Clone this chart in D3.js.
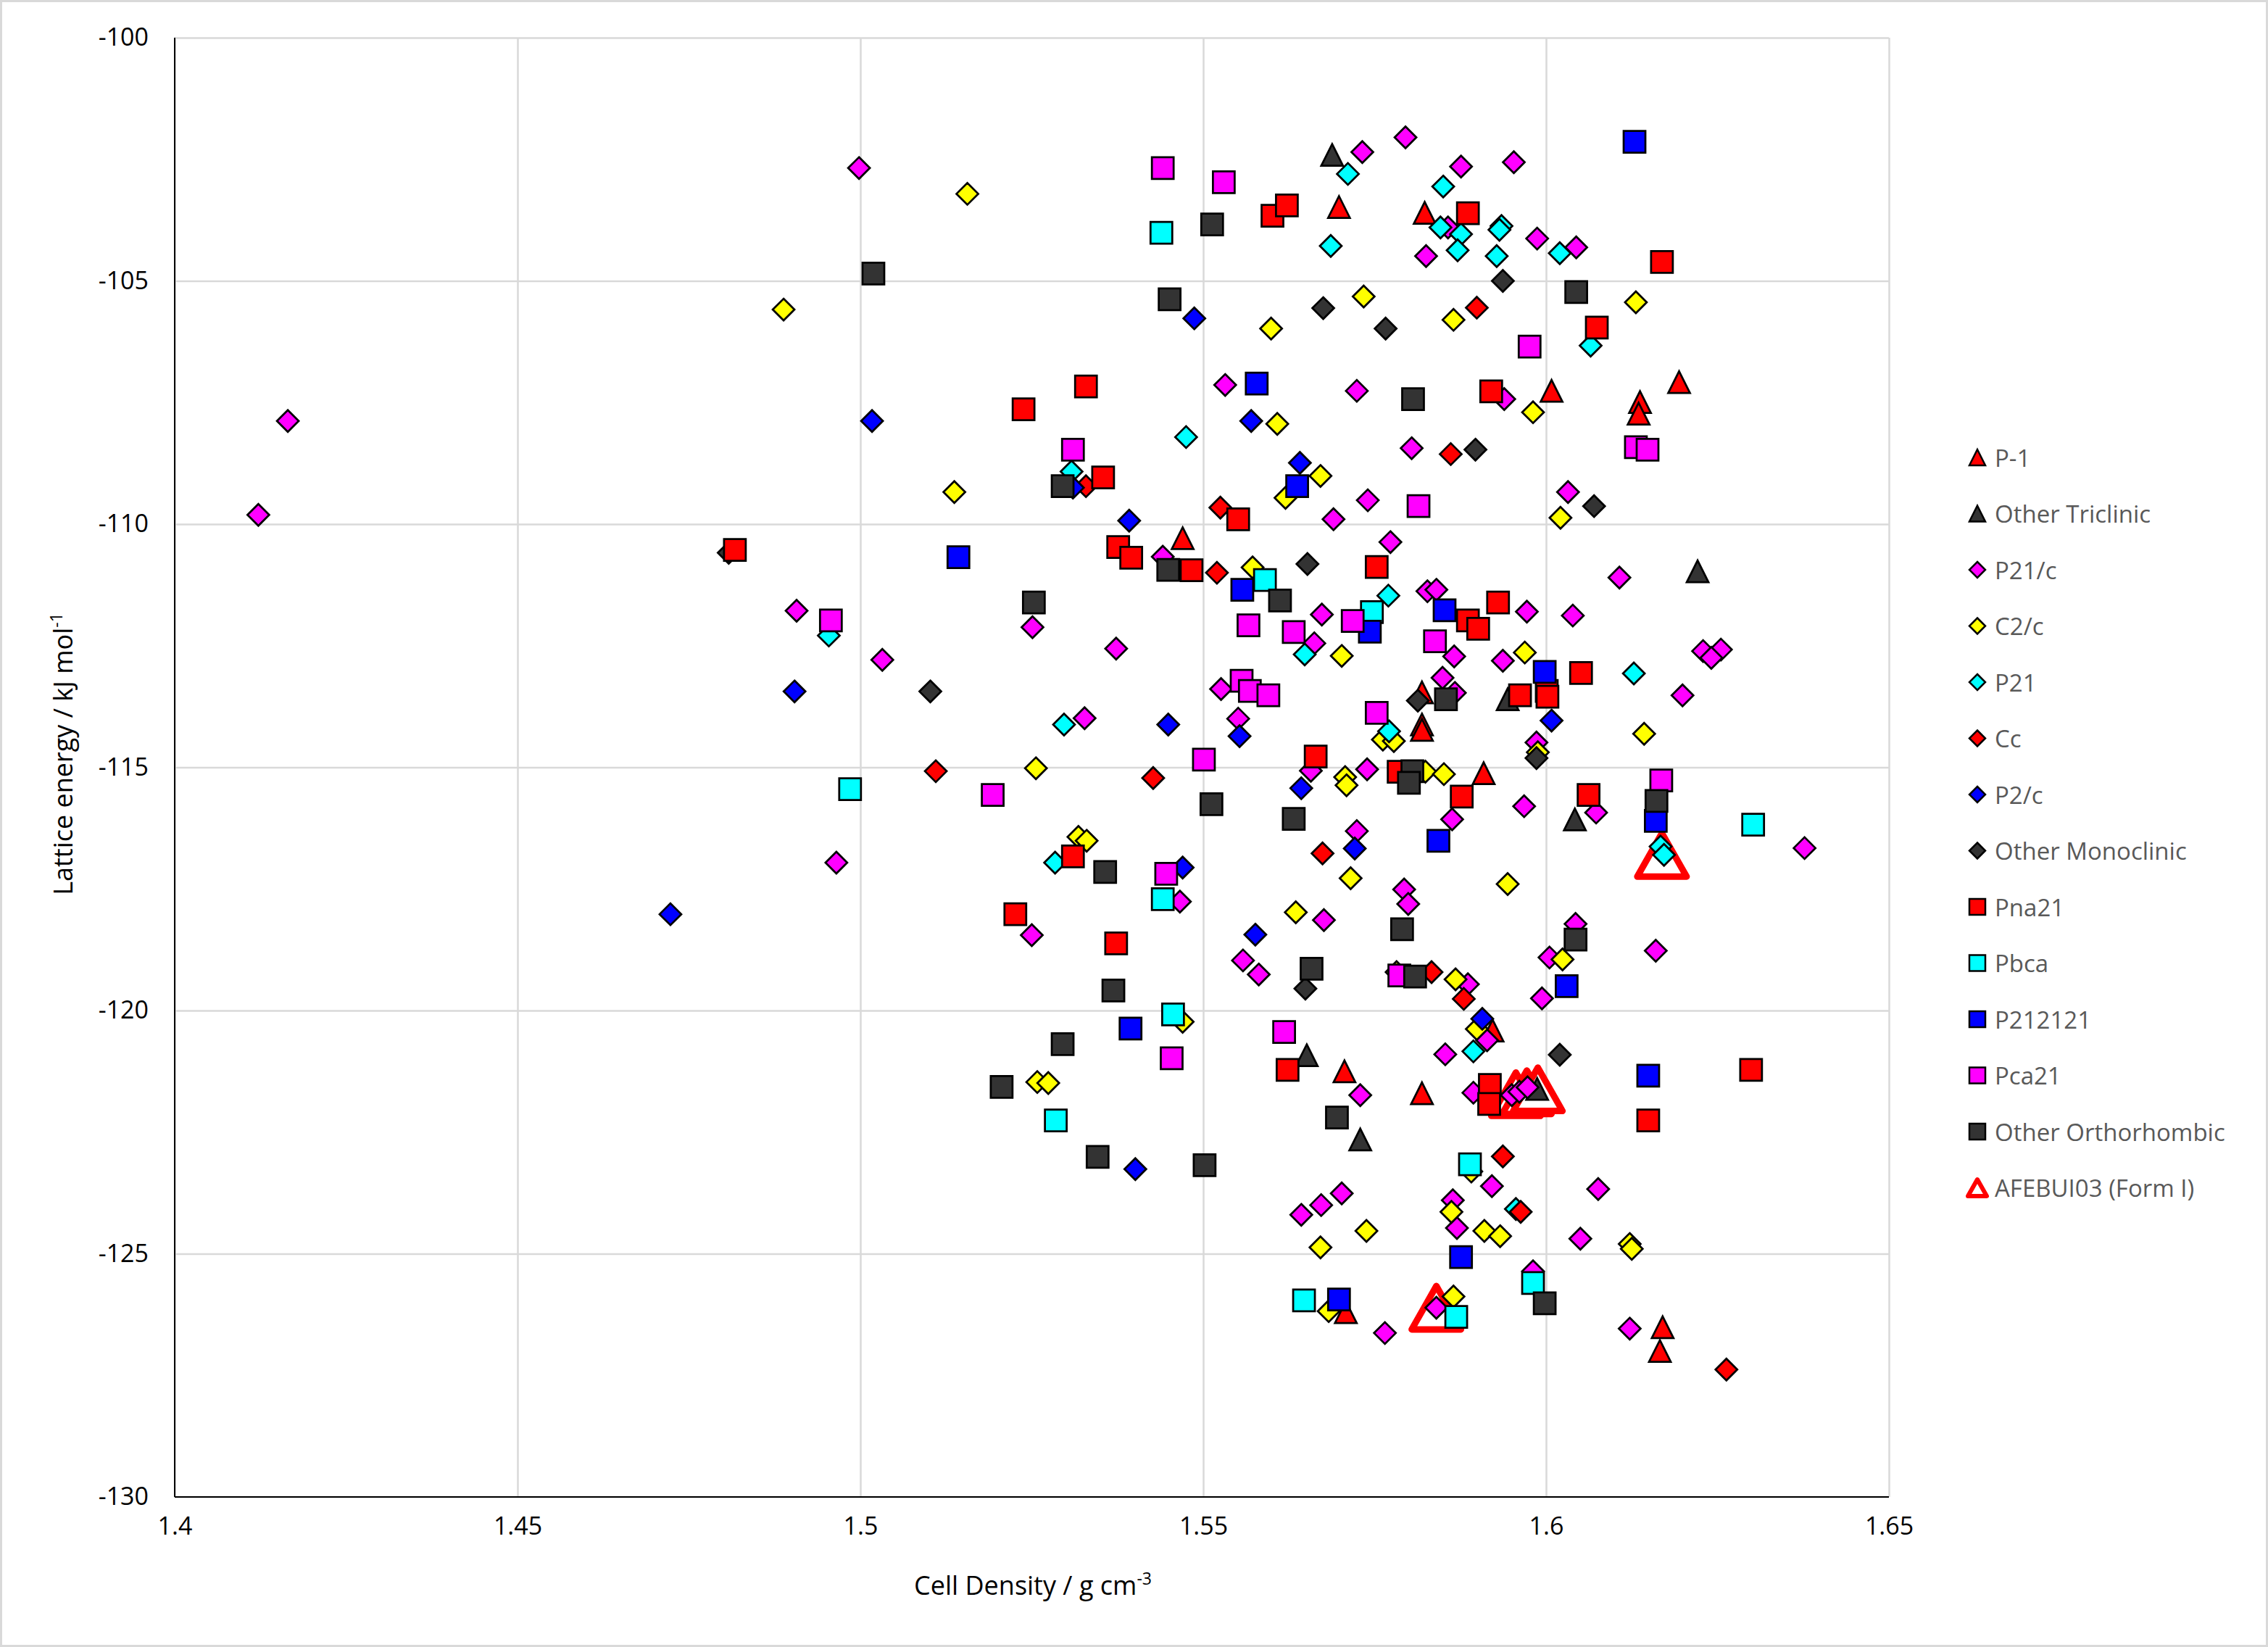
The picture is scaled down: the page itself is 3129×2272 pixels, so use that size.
<!DOCTYPE html>
<html>
<head>
<meta charset="utf-8">
<script src="https://cdn.jsdelivr.net/npm/d3@7/dist/d3.min.js"></script>
<style>
  body { margin: 0; background: #fff; }
  svg text { font-family: "Open Sans", "Liberation Sans", sans-serif; }
</style>
</head>
<body>
<div id="chart"></div>
<script>
// points are [cell density (g cm-3), lattice energy (kJ mol-1)]
const xTicks = [1.4, 1.45, 1.5, 1.55, 1.6, 1.65];
const yTicks = [-100, -105, -110, -115, -120, -125, -130];

const afebui03 = [[1.6169,-116.8],[1.584,-126.11],[1.5956,-121.72],[1.5972,-121.68],[1.5988,-121.62]];

const p1 = [[1.5698,-103.48],[1.5823,-103.6],[1.547,-110.29],[1.6008,-107.26],[1.6137,-107.49],[1.6135,-107.73],
  [1.6194,-107.08],[1.5819,-113.46],[1.5819,-114.12],[1.5819,-114.23],[1.5909,-115.12],[1.5706,-121.25],
  [1.5819,-121.7],[1.5922,-120.41],[1.5708,-126.2],[1.617,-126.51],[1.6166,-127.0]];

const otherTriclinic = [[1.5688,-102.41],[1.5944,-113.6],[1.6221,-110.97],[1.6042,-116.07],[1.5651,-120.92],
  [1.5729,-122.65],[1.5987,-121.61]];

const p21c = [[1.4165,-107.88],[1.4122,-109.81],[1.4998,-102.68],[1.4907,-111.78],[1.5032,-112.79],[1.4965,-116.96],
  [1.5251,-112.12],[1.5327,-113.99],[1.525,-118.45],[1.5732,-102.35],[1.5795,-102.05],[1.5876,-102.65],
  [1.5953,-102.56],[1.5857,-103.9],[1.5825,-104.49],[1.5987,-104.13],[1.6044,-104.31],[1.5532,-107.14],
  [1.5724,-107.26],[1.5939,-107.43],[1.5804,-108.44],[1.574,-109.51],[1.569,-109.9],[1.5773,-110.37],
  [1.5441,-110.67],[1.5827,-111.38],[1.584,-111.35],[1.5373,-112.56],[1.5526,-113.39],[1.5551,-114.0],
  [1.5673,-111.86],[1.5662,-112.45],[1.5849,-113.16],[1.5866,-112.72],[1.5867,-113.47],[1.5657,-115.07],
  [1.5739,-115.04],[1.5863,-116.07],[1.5724,-116.31],[1.5466,-117.76],[1.5676,-118.14],[1.5793,-117.51],
  [1.5799,-117.81],[1.5558,-118.97],[1.5581,-119.26],[1.6107,-111.1],[1.5972,-111.8],[1.6039,-111.88],
  [1.5937,-112.81],[1.6229,-112.61],[1.6255,-112.58],[1.6241,-112.75],[1.6199,-113.52],[1.5986,-114.49],
  [1.5968,-115.8],[1.6073,-115.93],[1.6377,-116.66],[1.6043,-118.22],[1.616,-118.77],[1.5729,-121.74],
  [1.5853,-120.9],[1.5643,-124.2],[1.5672,-124.0],[1.5702,-123.76],[1.5765,-126.63],[1.584,-126.11],
  [1.5864,-123.9],[1.587,-124.47],[1.6005,-118.91],[1.5994,-119.75],[1.5886,-119.46],[1.5914,-120.61],
  [1.5894,-121.69],[1.595,-121.74],[1.5961,-121.67],[1.5973,-121.58],[1.5921,-123.61],[1.6076,-123.67],
  [1.605,-124.69],[1.5981,-125.36],[1.6122,-126.54],[1.6032,-109.34]];

const c2c = [[1.4888,-105.59],[1.5156,-103.21],[1.5137,-109.34],[1.5599,-105.98],[1.5734,-105.32],[1.5865,-105.8],
  [1.5608,-107.94],[1.5671,-109.01],[1.562,-109.46],[1.5256,-115.02],[1.5318,-116.43],[1.533,-116.51],
  [1.6131,-105.44],[1.5981,-107.7],[1.6021,-109.87],[1.5572,-110.89],[1.5702,-112.71],[1.5762,-114.43],
  [1.5778,-114.46],[1.5707,-115.2],[1.5709,-115.37],[1.5824,-115.09],[1.5851,-115.14],[1.5715,-117.28],
  [1.5635,-117.98],[1.5969,-112.64],[1.6143,-114.31],[1.5988,-114.69],[1.5944,-117.4],[1.5258,-121.47],
  [1.5274,-121.49],[1.547,-120.23],[1.5782,-119.21],[1.5868,-119.36],[1.5738,-124.53],[1.5671,-124.87],
  [1.5683,-126.18],[1.5865,-125.88],[1.5862,-124.14],[1.6024,-118.95],[1.5899,-120.38],[1.591,-124.53],
  [1.5933,-124.64],[1.6122,-124.8],[1.6125,-124.9],[1.5891,-123.31]];

const p21 = [[1.4954,-112.29],[1.5297,-114.12],[1.5284,-116.96],[1.5308,-108.92],[1.5711,-102.8],[1.585,-103.06],
  [1.5846,-103.9],[1.5876,-104.04],[1.5871,-104.37],[1.5686,-104.28],[1.5935,-103.87],[1.5932,-103.95],
  [1.5928,-104.49],[1.602,-104.43],[1.6065,-106.33],[1.5475,-108.21],[1.577,-111.47],[1.5648,-112.68],
  [1.5771,-114.26],[1.6128,-113.07],[1.6167,-116.63],[1.6172,-116.8],[1.5894,-120.84],[1.5956,-124.08]];

const cc = [[1.511,-115.08],[1.5899,-105.55],[1.5861,-108.56],[1.5525,-109.66],[1.552,-111.0],[1.5427,-115.22],
  [1.5674,-116.77],[1.5833,-119.21],[1.588,-119.76],[1.5937,-123.0],[1.5963,-124.14],[1.6263,-127.38],
  [1.5329,-109.22]];

const p2c = [[1.4723,-118.02],[1.5017,-107.88],[1.4904,-113.44],[1.531,-109.25],[1.5487,-105.77],[1.557,-107.88],
  [1.5641,-108.74],[1.5392,-109.93],[1.5449,-114.12],[1.5553,-114.36],[1.5643,-115.43],[1.5721,-116.67],
  [1.547,-117.06],[1.5576,-118.44],[1.5401,-123.26],[1.6008,-114.04],[1.5907,-120.17]];

const otherMonoclinic = [[1.4808,-110.59],[1.5102,-113.44],[1.5675,-105.56],[1.5766,-105.98],[1.5652,-110.82],
  [1.5937,-105.0],[1.5897,-108.47],[1.607,-109.63],[1.5813,-113.63],[1.5986,-114.81],[1.5649,-119.55],
  [1.602,-120.91]];

const pna21 = [[1.4817,-110.53],[1.5238,-107.64],[1.5329,-107.17],[1.5354,-109.04],[1.5601,-103.66],[1.5622,-103.45],
  [1.5551,-109.9],[1.5376,-110.47],[1.5395,-110.69],[1.5483,-110.95],[1.5753,-110.88],[1.5886,-103.61],
  [1.6169,-104.61],[1.6074,-105.96],[1.592,-107.27],[1.5664,-114.78],[1.5785,-115.09],[1.5877,-115.6],
  [1.6062,-115.57],[1.593,-111.61],[1.5886,-111.98],[1.5901,-112.15],[1.5962,-113.52],[1.6001,-113.43],
  [1.6002,-113.55],[1.6051,-113.06],[1.531,-116.83],[1.5226,-118.02],[1.5373,-118.62],[1.5623,-121.22],
  [1.5918,-121.53],[1.5917,-121.92],[1.6149,-122.26],[1.6299,-121.22]];

const pbca = [[1.4985,-115.45],[1.5439,-104.01],[1.559,-111.15],[1.5746,-111.81],[1.5441,-117.71],[1.5456,-120.08],
  [1.5285,-122.26],[1.5647,-125.96],[1.5869,-126.3],[1.5889,-123.16],[1.5981,-125.6],[1.6302,-116.18]];

const p212121 = [[1.5143,-110.68],[1.5578,-107.11],[1.5637,-109.22],[1.5557,-111.35],[1.5852,-111.77],[1.5743,-112.21],
  [1.6129,-102.14],[1.5998,-113.04],[1.5843,-116.51],[1.616,-116.1],[1.5394,-120.37],[1.5698,-125.94],
  [1.5876,-125.07],[1.603,-119.5],[1.6149,-121.34]];

const pca21 = [[1.4957,-111.98],[1.5193,-115.57],[1.531,-108.47],[1.5441,-102.68],[1.553,-102.97],[1.5814,-109.63],
  [1.5976,-106.35],[1.6131,-108.42],[1.6148,-108.47],[1.5566,-112.08],[1.5632,-112.22],[1.5718,-111.99],
  [1.5838,-112.41],[1.5556,-113.22],[1.5568,-113.43],[1.5595,-113.52],[1.5753,-113.88],[1.5501,-114.84],
  [1.5446,-117.19],[1.6168,-115.27],[1.5454,-120.98],[1.5786,-119.28],[1.5618,-120.44]];

const otherOrthorhombic = [[1.5019,-104.85],[1.5513,-103.84],[1.5451,-105.38],[1.5806,-107.43],[1.5295,-109.22],
  [1.5253,-111.61],[1.5449,-110.94],[1.5612,-111.57],[1.5854,-113.6],[1.5805,-115.08],[1.58,-115.32],
  [1.5512,-115.76],[1.5632,-116.06],[1.5357,-117.15],[1.579,-118.33],[1.6044,-105.23],[1.6161,-115.69],
  [1.6043,-118.54],[1.5295,-120.69],[1.5206,-121.57],[1.5346,-123.01],[1.5369,-119.59],[1.5502,-123.18],
  [1.5658,-119.14],[1.5809,-119.3],[1.5695,-122.2],[1.5998,-126.02]];

// legend order; AFEBUI03 is drawn first so every other marker sits on top of it
const series = [
  { name: "P-1", data: p1, shape: "triangle", fill: "#FF0000" },
  { name: "Other Triclinic", data: otherTriclinic, shape: "triangle", fill: "#333333" },
  { name: "P21/c", data: p21c, shape: "diamond", fill: "#FF00FF" },
  { name: "C2/c", data: c2c, shape: "diamond", fill: "#FFFF00" },
  { name: "P21", data: p21, shape: "diamond", fill: "#00FFFF" },
  { name: "Cc", data: cc, shape: "diamond", fill: "#FF0000" },
  { name: "P2/c", data: p2c, shape: "diamond", fill: "#0000FF" },
  { name: "Other Monoclinic", data: otherMonoclinic, shape: "diamond", fill: "#333333" },
  { name: "Pna21", data: pna21, shape: "square", fill: "#FF0000" },
  { name: "Pbca", data: pbca, shape: "square", fill: "#00FFFF" },
  { name: "P212121", data: p212121, shape: "square", fill: "#0000FF" },
  { name: "Pca21", data: pca21, shape: "square", fill: "#FF00FF" },
  { name: "Other Orthorhombic", data: otherOrthorhombic, shape: "square", fill: "#333333" },
  { name: "AFEBUI03 (Form I)", data: afebui03, shape: "big", fill: "#FFFFFF" }
];

const W = 3129, H = 2272;
const plot = { left: 241, top: 52, right: 2606, bottom: 2065 };

function markerPath(shape, s) {
  const h = s / 2;
  if (shape === "square") return `M${-h},${-h}H${h}V${h}H${-h}Z`;
  if (shape === "diamond") return `M0,${-h}L${h},0L0,${h}L${-h},0Z`;
  if (shape === "big") return `M0,${-s * 0.44}L${s / 2},${s * 0.44}L${-s / 2},${s * 0.44}Z`;
  return `M0,${-h}L${h},${h}L${-h},${h}Z`;
}

function styleMarker(sel, d, size, legend) {
  if (d.shape === "big") {
    sel.attr("d", markerPath("big", legend ? 26 : 68))
      .attr("fill", "#FFFFFF")
      .attr("stroke", "#FF0000")
      .attr("stroke-width", legend ? 6 : 9)
      .attr("stroke-linejoin", "round");
  } else {
    sel.attr("d", markerPath(d.shape, size))
      .attr("fill", d.fill)
      .attr("stroke", "#000")
      .attr("stroke-width", legend ? 2.5 : 2.75);
  }
}

const svg = d3.select("#chart")
  .append("svg")
  .attr("width", W)
  .attr("height", H);

svg.append("rect")
  .attr("x", 1.5).attr("y", 1.5)
  .attr("width", W - 3).attr("height", H - 3)
  .attr("fill", "#fff")
  .attr("stroke", "#D9D9D9")
  .attr("stroke-width", 3);

const x = d3.scaleLinear().domain([1.4, 1.65]).range([plot.left, plot.right]);
const y = d3.scaleLinear().domain([-130, -100]).range([plot.bottom, plot.top]);

// gridlines
const gx = svg.append("g")
  .attr("transform", `translate(0,${plot.bottom})`)
  .call(d3.axisBottom(x).tickValues(xTicks).tickSize(-(plot.bottom - plot.top)).tickFormat(""));
const gy = svg.append("g")
  .attr("transform", `translate(${plot.left},0)`)
  .call(d3.axisLeft(y).tickValues(yTicks).tickSize(-(plot.right - plot.left)).tickFormat(""));
[gx, gy].forEach(g => {
  g.select(".domain").remove();
  g.selectAll(".tick line").attr("stroke", "#D9D9D9").attr("stroke-width", 2.5);
});

// axis lines
svg.append("line")
  .attr("x1", plot.left).attr("x2", plot.left)
  .attr("y1", plot.top).attr("y2", plot.bottom)
  .attr("stroke", "#000").attr("stroke-width", 2);
svg.append("line")
  .attr("x1", plot.left).attr("x2", plot.right)
  .attr("y1", plot.bottom).attr("y2", plot.bottom)
  .attr("stroke", "#000").attr("stroke-width", 2);

// tick labels
const xl = svg.append("g")
  .attr("transform", `translate(0,${plot.bottom})`)
  .call(d3.axisBottom(x).tickValues(xTicks).tickSize(0).tickPadding(28).tickFormat(d => String(d)));
const yl = svg.append("g")
  .attr("transform", `translate(${plot.left},0)`)
  .call(d3.axisLeft(y).tickValues(yTicks).tickSize(0).tickPadding(36).tickFormat(d => String(d)));
[xl, yl].forEach(g => {
  g.select(".domain").remove();
  g.selectAll("text")
    .attr("font-size", 34)
    .attr("fill", "#000")
    .style("font-family", '"Open Sans", "Liberation Sans", sans-serif');
});

// axis titles
const xt = svg.append("text")
  .attr("x", 1425).attr("y", 2200)
  .attr("text-anchor", "middle")
  .attr("font-size", 36)
  .attr("fill", "#000");
xt.append("tspan").text("Cell Density / g cm");
xt.append("tspan").attr("font-size", 23).attr("dy", -14).text("-3");

const yt = svg.append("text")
  .attr("transform", "translate(100,1040) rotate(-90)")
  .attr("text-anchor", "middle")
  .attr("font-size", 36)
  .attr("fill", "#000");
yt.append("tspan").text("Lattice energy / kJ mol");
yt.append("tspan").attr("font-size", 23).attr("dy", -14).text("-1");

// markers
const drawOrder = [series[13]].concat(series.slice(0, 13));
const marks = svg.append("g");
drawOrder.forEach(s => {
  marks.append("g")
    .selectAll("path")
    .data(s.data)
    .join("path")
    .attr("transform", d => `translate(${x(d[0])},${y(d[1])})`)
    .each(function () { styleMarker(d3.select(this), s, 30, false); });
});

// legend
const legend = svg.append("g").attr("transform", "translate(2728,631)");
series.forEach((s, i) => {
  const row = legend.append("g").attr("transform", `translate(0,${i * 77.5})`);
  const m = row.append("path");
  styleMarker(m, s, 22, true);
  row.append("text")
    .attr("x", 24)
    .attr("y", 0)
    .attr("dominant-baseline", "central")
    .attr("font-size", 33)
    .attr("fill", "#595959")
    .text(s.name);
});
</script>
</body>
</html>
